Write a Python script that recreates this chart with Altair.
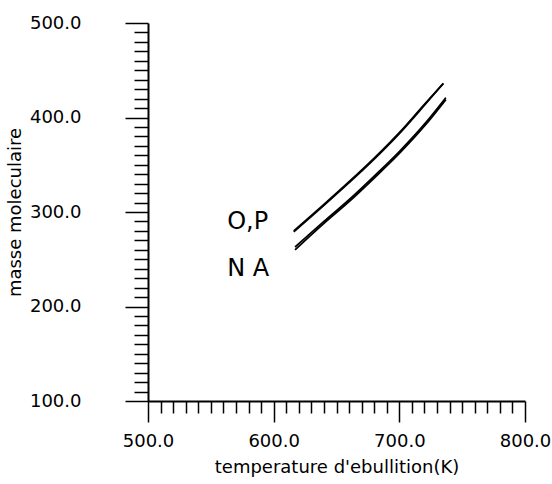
import altair as alt
import pandas as pd

# Boiling temperature (K) vs molecular mass for the four families
temp_op = [616, 640, 660, 680, 700, 720, 735]
mass_o = [279, 307, 331, 356, 383, 413, 436]
mass_p = [280, 308, 332, 357, 384, 414, 436]

temp_na = [617, 640, 660, 680, 700, 720, 737]
mass_n = [263, 290, 313, 338, 364, 393, 421]
mass_a = [260, 288, 311, 336, 362, 391, 419]

# Curve labels
label_text = ["O,P", "N A"]
label_temp = [563, 563]
label_mass = [289, 240]

x_ticks = list(range(500, 801, 10))
y_ticks = list(range(100, 501, 10))

rows = []
for name, temps, masses in [("O", temp_op, mass_o), ("P", temp_op, mass_p),
                            ("N", temp_na, mass_n), ("A", temp_na, mass_a)]:
    for t, m in zip(temps, masses):
        rows.append({"serie": name, "temperature": t, "masse": m})
curves = pd.DataFrame(rows)
labels = pd.DataFrame({"txt": label_text, "temperature": label_temp, "masse": label_mass})

FONT = "DejaVu Sans"
TXT = 18

x_scale = alt.Scale(domain=[500, 800], nice=False, zero=False)
y_scale = alt.Scale(domain=[100, 500], nice=False, zero=False)

x_axis = alt.Axis(
    values=x_ticks,
    labelExpr="datum.value % 100 === 0 ? format(datum.value, '.1f') : ''",
    labelOverlap=False,
    tickSize={"condition": {"test": "datum.value % 100 === 0", "value": 21}, "value": 12},
    tickWidth=1.5, tickColor="black",
    domainColor="black", domainWidth=2,
    labelFont=FONT, labelFontSize=TXT, labelColor="black", labelPadding=10,
    labelFlush=False,
    title="temperature d'ebullition(K)",
    titleFont=FONT, titleFontSize=TXT, titleFontWeight="normal", titleColor="black",
    titleY=66, titleBaseline="middle",
    grid=False,
)
y_axis = alt.Axis(
    values=y_ticks,
    labelExpr="datum.value % 100 === 0 ? format(datum.value, '.1f') : ''",
    labelOverlap=False,
    tickSize={"condition": {"test": "datum.value % 100 === 0", "value": 23}, "value": 14},
    tickWidth=1.5, tickColor="black",
    domainColor="black", domainWidth=2,
    labelFont=FONT, labelFontSize=TXT, labelColor="black", labelPadding=44,
    labelFlush=False,
    title="masse moleculaire",
    titleFont=FONT, titleFontSize=TXT, titleFontWeight="normal", titleColor="black",
    titleX=-133, titleBaseline="middle",
    grid=False,
)

lines = alt.Chart(curves).mark_line(color="black", strokeWidth=1.8, interpolate="monotone").encode(
    x=alt.X("temperature:Q", scale=x_scale, axis=x_axis),
    y=alt.Y("masse:Q", scale=y_scale, axis=y_axis),
    detail="serie:N",
)

text = alt.Chart(labels).mark_text(
    align="left", baseline="middle", font=FONT, fontSize=24, color="black"
).encode(
    x=alt.X("temperature:Q", scale=x_scale, axis=x_axis),
    y=alt.Y("masse:Q", scale=y_scale, axis=y_axis),
    text="txt:N",
)

chart = (lines + text).properties(
    width=377, height=378,
    autosize=alt.AutoSizeParams(type="none"),
    padding={"left": 148, "top": 23, "right": 27, "bottom": 83},
    background="white",
).configure_view(stroke=None)

chart.save("out.html", embed_options={"renderer": "svg", "actions": False})
